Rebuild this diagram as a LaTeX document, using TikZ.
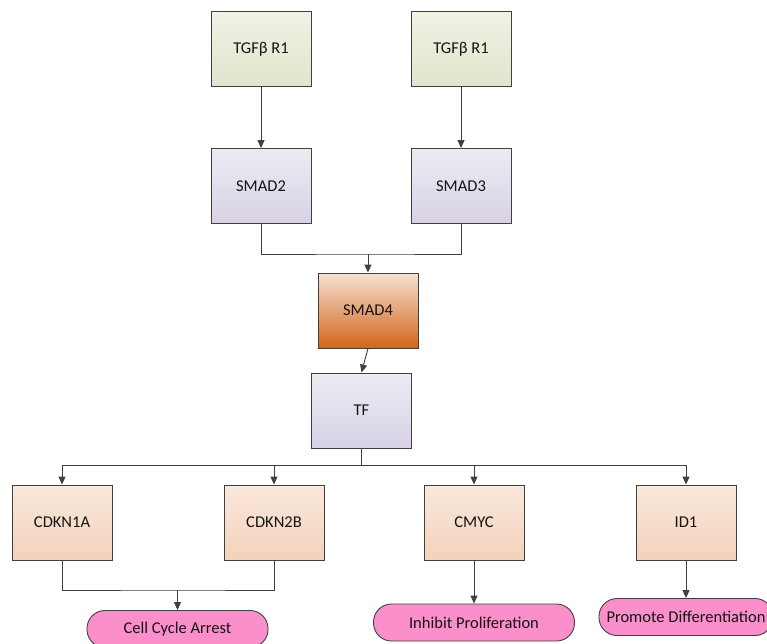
\documentclass[tikz,border=0pt]{standalone}
\usepackage{fontspec}
\setmainfont{Carlito}
\usetikzlibrary{arrows.meta}
\definecolor{edge}{HTML}{404040}
\definecolor{greenT}{HTML}{F0F2E4}
\definecolor{greenB}{HTML}{E0E5CC}
\definecolor{lavT}{HTML}{EDEAF3}
\definecolor{lavB}{HTML}{D8D2E5}
\definecolor{oraT}{HTML}{F6E0D3}
\definecolor{oraB}{HTML}{D2661A}
\definecolor{peaT}{HTML}{FAE8DC}
\definecolor{peaB}{HTML}{F3D2BA}
\definecolor{pinkF}{HTML}{FB8FCB}
\tikzset{
  x=1pt, y=-1pt,
  every node/.style={font=\fontsize{16.5}{19}\selectfont, text=black!92},
  box/.style={draw=edge, line width=0.9pt, minimum width=100pt, minimum height=75pt, inner sep=0pt},
  receptor/.style={box, top color=greenT, bottom color=greenB},
  smadbox/.style={box, top color=lavT, bottom color=lavB},
  cobox/.style={box, top color=oraT, bottom color=oraB},
  target/.style={box, top color=peaT, bottom color=peaB},
  outcome/.style={draw=edge, line width=0.9pt, fill=pinkF, rounded corners=18pt, minimum height=37pt, inner sep=0pt},
  link/.style={draw=edge, line width=0.9pt},
  arrow/.style={link, -{Triangle[length=8pt,width=7pt]}}
}
\begin{document}
\begin{tikzpicture}
\useasboundingbox (0,0) rectangle (767,644);
\clip (0,0) rectangle (767,644);

% receptors
\node[receptor] (tgf1) at (261,49) {TGFβ R1};
\node[receptor] (tgf2) at (461,49) {TGFβ R1};
% R-SMADs
\node[smadbox] (smad2) at (261,186) {SMAD2};
\node[smadbox] (smad3) at (461,186) {SMAD3};
% co-SMAD and transcription factor
\node[cobox] (smad4) at (368,310.5) {SMAD4};
\node[smadbox] (tf) at (361.5,410.5) {TF};
% target genes
\node[target] (cdkn1a) at (62,522.5) {CDKN1A};
\node[target] (cdkn2b) at (274,522.5) {CDKN2B};
\node[target] (cmyc) at (474,522.5) {CMYC};
\node[target] (id1) at (686,522.5) {ID1};
% outcomes
\node[outcome, minimum width=181pt] (arrest) at (177.5,629) {Cell Cycle Arrest};
\node[outcome, minimum width=201pt] (inhib) at (474,622.5) {Inhibit Proliferation};
\node[outcome, minimum width=174pt] (promo) at (686,617) {Promote Differentiation};

% junction points
\coordinate (j1) at (368,254);
\coordinate (bus) at (361.5,465);
\coordinate (j2) at (177.5,590);

% connectors
\draw[arrow] (tgf1) -- (smad2);
\draw[arrow] (tgf2) -- (smad3);
\draw[link] (smad2.south) |- (j1) -| (smad3.south);
\draw[arrow] (j1) -- (smad4.north);
\draw[arrow] (smad4.south) -- (tf.north);
\draw[link] (tf.south) -- (bus);
\draw[arrow] (bus) -| (cdkn1a.north);
\draw[arrow] (bus) -| (cdkn2b.north);
\draw[arrow] (bus) -| (cmyc.north);
\draw[arrow] (bus) -| (id1.north);
\draw[link] (cdkn1a.south) |- (j2) -| (cdkn2b.south);
\draw[arrow] (j2) -- (arrest.north);
\draw[arrow] (cmyc.south) -- (inhib.north);
\draw[arrow] (id1.south) -- (promo.north);
\end{tikzpicture}
\end{document}
